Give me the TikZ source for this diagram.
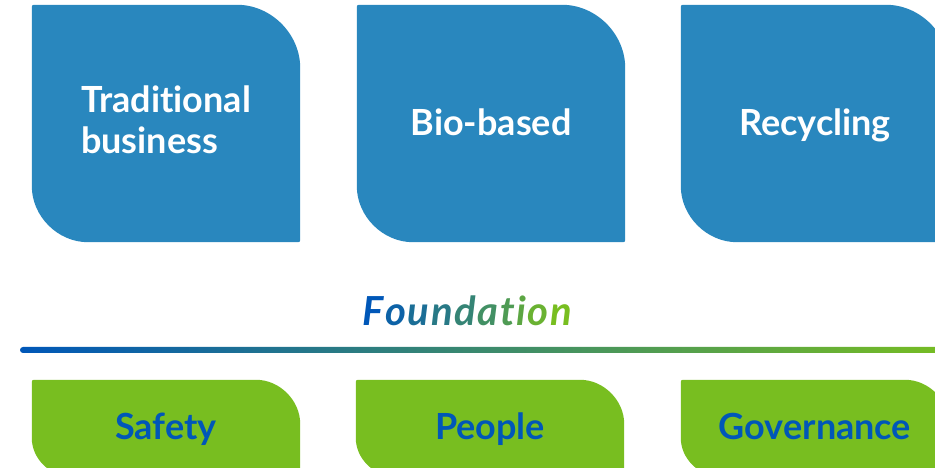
\documentclass[tikz,border=0pt]{standalone}
\usepackage{fontspec}
\setmainfont{Lato}[Ligatures=NoCommon]
\usetikzlibrary{backgrounds,calc}
\definecolor{tileblue}{RGB}{41,135,190}
\definecolor{tilegreen}{RGB}{120,190,32}
\definecolor{darkblue}{RGB}{0,87,184}
\tikzset{
 pillar/.style={minimum width=268pt,minimum height=237pt,inner sep=0pt,text=white,align=left,font=\fontsize{36}{41}\selectfont\bfseries},
 oneline/.style={text height=26pt,text depth=2.5pt},
 ground/.style={minimum width=268pt,minimum height=96pt,inner sep=0pt,text=darkblue,oneline,font=\fontsize{36}{41}\selectfont\bfseries},
 title/.style={anchor=base,inner sep=0pt,font=\fontsize{40}{44}\selectfont\bfseries\itshape}
}
\newcommand\leaf[4]{\fill[#4,rounded corners=2pt] (#1.north west) -- ($(#1.north east)+(-#2pt,0)$) arc[start angle=90,end angle=0,radius=#2pt] -- (#1.south east) -- ($(#1.south west)+(#3pt,0)$) arc[start angle=270,end angle=180,radius=#3pt] -- cycle;}

\begin{document}
\begin{tikzpicture}[x=1pt,y=1pt]
\useasboundingbox (0,0) rectangle (935,468);
\clip (0,0) rectangle (935,468);
\path(166,344.5) node[pillar](trad){Traditional\\business\rule[-7pt]{0pt}{0pt}} (491,344.5) node[pillar,oneline](bio){Bio-based} (815,344.5) node[pillar,oneline](recyc){Recycling};
\path(166,40) node[ground](safety){Safety} (490,40) node[ground](people){People} (815,40) node[ground](gov){Governance};
\path(468,142) node[title](found){\foreach \l [count=\i from 0] in {F,o,u,n,d,a,t,i,o,n}{\pgfmathtruncatemacro\pct{\i*100/9}\textcolor{tilegreen!\pct!darkblue}{\l}\kern1.6pt}};

\coordinate (lineL) at (20,118);
\coordinate (lineR) at (960,118);
\shade[left color=darkblue,right color=tilegreen,rounded corners=3pt] ($(lineL)+(0,-3)$) rectangle ($(lineR)+(0,3)$);

\begin{scope}[on background layer]
\foreach \n in {trad,bio,recyc} {\leaf{\n}{65}{58}{tileblue}}
\foreach \n in {safety,people,gov} {\leaf{\n}{46}{40}{tilegreen}}
\end{scope}
\end{tikzpicture}
\end{document}
